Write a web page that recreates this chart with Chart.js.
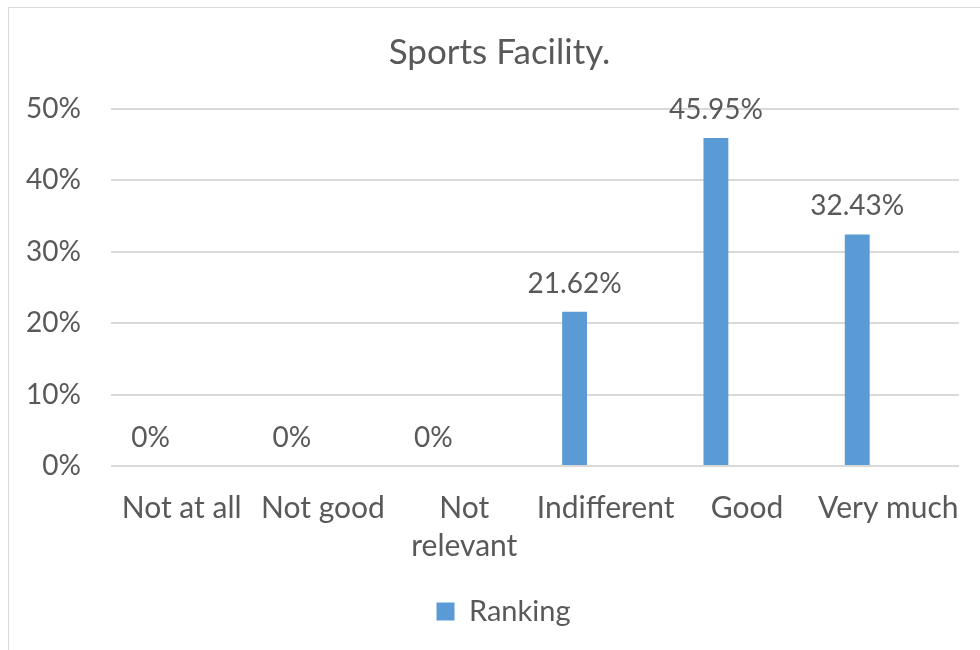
<!DOCTYPE html>
<html>
<head>
<meta charset="utf-8">
<script src="https://cdn.jsdelivr.net/npm/chart.js@4.4.1/dist/chart.umd.min.js"></script>
<style>
    body { margin: 0; background: #ffffff; overflow: hidden; }
    #frame {
        position: absolute; left: 8px; top: 7px;
        width: 990px; height: 660px;
        border: 1px solid #d9d9d9;
    }
    #wrap { position: absolute; left: 0; top: 0; width: 980px; height: 650px; }
</style>
</head>
<body>
<div id="frame"></div>
<div id="wrap"><canvas id="chart"></canvas></div>
<script>
// Sports Facility ranking

const categories = ['Not at all', 'Not good', ['Not', 'relevant'], 'Indifferent', 'Good', 'Very much'];
const rankingValues = [0, 0, 0, 21.62, 45.95, 32.43];
const valueLabels = ['0%', '0%', '0%', '21.62%', '45.95%', '32.43%'];
const yTicks = [0, 10, 20, 30, 40, 50];

const textColor = '#595959';
const fontFamily = 'Lato, "Open Sans", sans-serif';

// draws value labels above each bar (no datalabels plugin available)
const valueLabelPlugin = {
    id: 'valueLabels',
    afterDatasetsDraw(chart) {
        const ctx = chart.ctx;
        const meta = chart.getDatasetMeta(0);
        ctx.save();
        ctx.font = '28px ' + fontFamily;
        ctx.fillStyle = textColor;
        ctx.textAlign = 'center';
        ctx.textBaseline = 'bottom';
        meta.data.forEach((bar, i) => {
            ctx.fillText(valueLabels[i], bar.x, bar.y - 14);
        });
        ctx.restore();
    }
};

// title and legend sit a bit right of the middle in the original
const nudgePlugin = {
    id: 'nudge',
    afterLayout(chart) {
        chart.titleBlock.left += 20;
        chart.titleBlock.right += 20;
        chart.legend.left += 24;
        chart.legend.right += 24;
    }
};

const ctx = document.getElementById('chart').getContext('2d');
new Chart(ctx, {
    type: 'bar',
    data: {
        labels: categories,
        datasets: [{
            label: 'Ranking',
            data: rankingValues,
            backgroundColor: '#5b9bd5',
            borderWidth: 0,
            barPercentage: 0.4,
            categoryPercentage: 0.88
        }, {
            // empty second slot, keeps bars left of centre like the original
            label: '',
            data: [],
            barPercentage: 0.4,
            categoryPercentage: 0.88
        }]
    },
    options: {
        responsive: true,
        maintainAspectRatio: false,
        animation: false,
        layout: { padding: { left: 0, right: 21, top: 0, bottom: 14 } },
        plugins: {
            title: {
                display: true,
                text: 'Sports Facility.',
                color: textColor,
                font: { family: fontFamily, size: 35, weight: 'normal' },
                padding: { top: 31.5, bottom: 35.5 }
            },
            legend: {
                position: 'bottom',
                labels: {
                    color: textColor,
                    font: { family: fontFamily, size: 29 },
                    boxWidth: 18,
                    boxHeight: 18,
                    padding: 10,
                    filter: item => item.text !== ''
                }
            },
            tooltip: { enabled: false }
        },
        scales: {
            x: {
                afterFit: scale => {
                    scale.height = 121;
                    // long end labels should not squeeze the plot
                    scale.paddingLeft = 0;
                    scale.paddingRight = 0;
                },
                grid: { display: false, drawTicks: false },
                border: { display: false },
                ticks: {
                    color: textColor,
                    font: { family: fontFamily, size: 30, lineHeight: 1.27 },
                    padding: 23,
                    maxRotation: 0,
                    autoSkip: false
                }
            },
            y: {
                min: 0,
                max: 50,
                afterFit: scale => { scale.width = 111; },
                afterBuildTicks: scale => { scale.ticks = yTicks.map(v => ({ value: v })); },
                grid: { color: '#d9d9d9', lineWidth: 2, drawTicks: false },
                border: { display: false },
                ticks: {
                    color: textColor,
                    font: { family: fontFamily, size: 28 },
                    padding: 30,
                    callback: v => v + '%'
                }
            }
        }
    },
    plugins: [valueLabelPlugin, nudgePlugin]
});
</script>
</body>
</html>
